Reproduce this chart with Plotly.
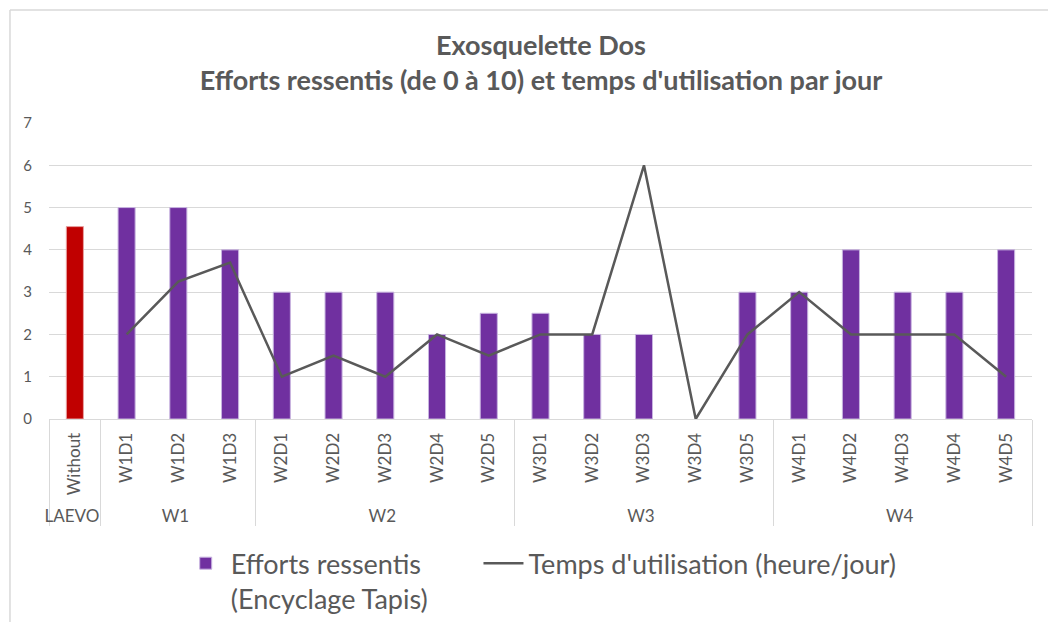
import plotly.graph_objects as go

groups = ["LAEVO", "W1", "W1", "W1", "W2", "W2", "W2", "W2", "W2",
          "W3", "W3", "W3", "W3", "W3", "W4", "W4", "W4", "W4", "W4"]
days = ["Without", "W1D1", "W1D2", "W1D3", "W2D1", "W2D2", "W2D3", "W2D4", "W2D5",
        "W3D1", "W3D2", "W3D3", "W3D4", "W3D5", "W4D1", "W4D2", "W4D3", "W4D4", "W4D5"]
efforts = [4.55, 5, 5, 4, 3, 3, 3, 2, 2.5, 2.5, 2, 2, None, 3, 3, 4, 3, 3, 4]
temps = [None, 2, 3.25, 3.7, 1, 1.5, 1, 2, 1.5, 2, 2, 6, 0, 2, 3, 2, 2, 2, 1]
yticks = [0, 1, 2, 3, 4, 5, 6, 7]

FONT = "Lato"
GREY = "#595959"
PURPLE = "#7030A0"
RED = "#C00000"

efforts_main = [None if g == "LAEVO" else v for g, v in zip(groups, efforts)]
efforts_ref = [v if g == "LAEVO" else None for g, v in zip(groups, efforts)]

fig = go.Figure()
fig.add_trace(go.Bar(
    x=[groups, days], y=efforts_main,
    name="Efforts ressentis<br>(Encyclage Tapis)",
    marker=dict(color=PURPLE, line=dict(color="#c8b4e0", width=1)),
    legend="legend",
))
fig.add_trace(go.Bar(
    x=[groups, days], y=efforts_ref, showlegend=False,
    marker=dict(color=RED, line=dict(color="#e8a0a0", width=1)),
))
fig.add_trace(go.Scatter(
    x=[groups, days], y=temps, mode="lines",
    name="Temps d'utilisation (heure/jour)",
    line=dict(color=GREY, width=2.5),
    connectgaps=False,
    legend="legend2",
))

legend_common = dict(
    orientation="h", xanchor="left", yanchor="top",
    xref="paper", yref="container", y=0.135,
    font=dict(family=FONT, size=27, color=GREY),
    itemwidth=40, valign="top", bgcolor="rgba(0,0,0,0)",
)

fig.update_layout(
    width=1048, height=614,
    margin=dict(l=41, r=24, t=115, b=203),
    paper_bgcolor="white", plot_bgcolor="white",
    font=dict(family=FONT, color=GREY),
    barmode="overlay",
    bargap=0.67,
    title=dict(
        text="<b>Exosquelette Dos<br>Efforts ressentis (de 0 à 10) et temps d'utilisation par jour</b>",
        xref="container", x=0.5086, xanchor="center",
        yref="container", y=0.9235, yanchor="top",
        font=dict(family=FONT, size=27, color=GREY),
    ),
    legend=dict(x=0.134, **legend_common),
    legend2=dict(x=0.4369, **legend_common),
    showlegend=True,
)
fig.update_yaxes(
    range=[0, 7], tickvals=yticks, showgrid=True, gridcolor="#d9d9d9", gridwidth=1,
    zeroline=False, showline=False, ticks="", tickfont=dict(size=15, color=GREY),
    ticklabelstandoff=16,
)
fig.update_xaxes(
    type="multicategory", tickangle=-90, tickfont=dict(size=17, color=GREY),
    showline=True, linecolor="#d9d9d9", linewidth=1,
    showdividers=True, dividercolor="#d9d9d9", dividerwidth=1,
    ticks="", showgrid=False, ticklabelstandoff=6,
)
fig.add_shape(type="line", xref="paper", yref="paper", x0=-0.0397, x1=-0.0397, y0=1.382, y1=-0.72,
              line=dict(color="#d9d9d9", width=1.5))
fig.add_shape(type="line", xref="paper", yref="paper", x0=-0.0397, x1=1.03, y0=1.382, y1=1.382,
              line=dict(color="#d9d9d9", width=1.5))

fig.write_html("out.html")
